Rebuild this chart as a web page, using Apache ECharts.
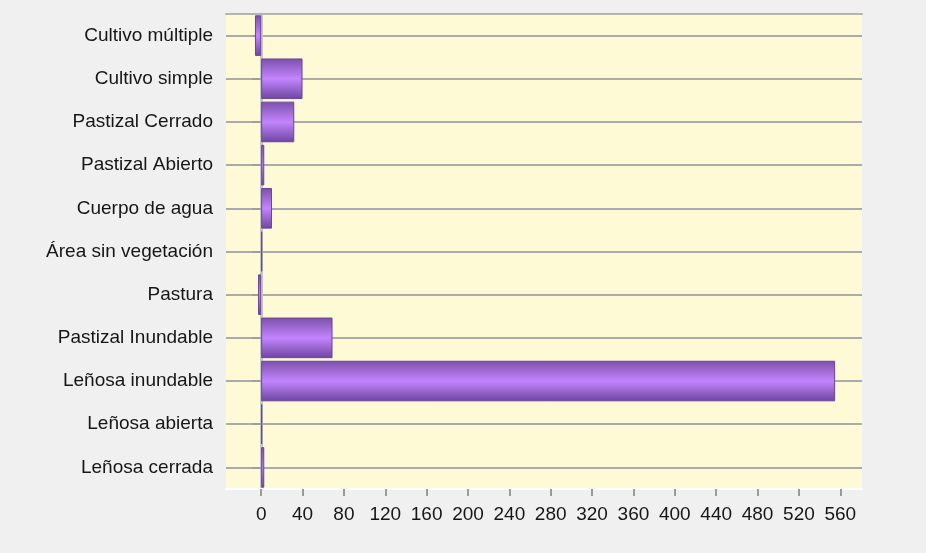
<!DOCTYPE html>
<html>
<head>
<meta charset="utf-8">
<script src="https://cdn.jsdelivr.net/npm/echarts@6/dist/echarts.min.js"></script>
<style>
  html, body { margin: 0; padding: 0; background: #f0f0f0; }
  #chart { width: 926px; height: 553px; }
</style>
</head>
<body>
<div id="chart"></div>
<script>
// Land-cover classes, top to bottom
const categories = [
  'Cultivo múltiple',
  'Cultivo simple',
  'Pastizal Cerrado',
  'Pastizal Abierto',
  'Cuerpo de agua',
  'Área sin vegetación',
  'Pastura',
  'Pastizal Inundable',
  'Leñosa inundable',
  'Leñosa abierta',
  'Leñosa cerrada'
];

// Value per class
const values = [-6, 40, 32, 3, 10.5, 1, -3, 69, 555, 1, 3];

// Labelled ticks on the value axis
const xTicks = [0, 40, 80, 120, 160, 200, 240, 280, 320, 360, 400, 440, 480, 520, 560];
const xMin = -34;
const xMax = 581;

const chart = echarts.init(document.getElementById('chart'), null, { renderer: 'canvas' });

const font = "'Liberation Sans', Arial, sans-serif";

chart.setOption({
  backgroundColor: '#f0f0f0',
  animation: false,
  grid: {
    left: 226, right: 64, top: 14, bottom: 64,
    show: true,
    backgroundColor: '#fffad6',
    borderWidth: 0
  },
  xAxis: [{
    type: 'value',
    position: 'bottom',
    min: xMin,
    max: xMax,
    axisLine: { show: true, lineStyle: { color: '#ffffff', width: 2 } },
    axisTick: {
      show: true, length: 7, inside: false,
      customValues: xTicks,
      lineStyle: { color: '#9a9a9a', width: 2 }
    },
    axisLabel: {
      customValues: xTicks,
      margin: 16,
      color: '#161616',
      fontFamily: font,
      fontSize: 19
    },
    splitLine: { show: false }
  }, {
    // top frame edge
    type: 'value',
    position: 'top',
    min: xMin,
    max: xMax,
    axisLine: { show: true, lineStyle: { color: '#b4b4b4', width: 2 } },
    axisTick: { show: false },
    axisLabel: { show: false },
    splitLine: { show: false }
  }],
  yAxis: {
    type: 'category',
    data: categories,
    inverse: true,
    axisLine: { show: true, lineStyle: { color: '#c6c6c6', width: 3 } },
    axisTick: {
      show: true, alignWithLabel: true, length: 9,
      lineStyle: { color: '#9a9a9a', width: 1.5 }
    },
    axisLabel: {
      margin: 13,
      color: '#161616',
      fontFamily: font,
      fontSize: 19
    },
    splitLine: {
      show: true,
      alignWithLabel: true,
      lineStyle: { color: '#ababab', width: 2 }
    }
  },
  series: [{
    type: 'bar',
    data: values,
    xAxisIndex: 0,
    barCategoryGap: '6%',
    itemStyle: {
      color: new echarts.graphic.LinearGradient(0, 0, 0, 1, [
        { offset: 0, color: '#7b50ab' },
        { offset: 0.5, color: '#c285fd' },
        { offset: 1, color: '#6e45a0' }
      ]),
      borderColor: '#6a4596',
      borderWidth: 1
    }
  }]
});
</script>
</body>
</html>
